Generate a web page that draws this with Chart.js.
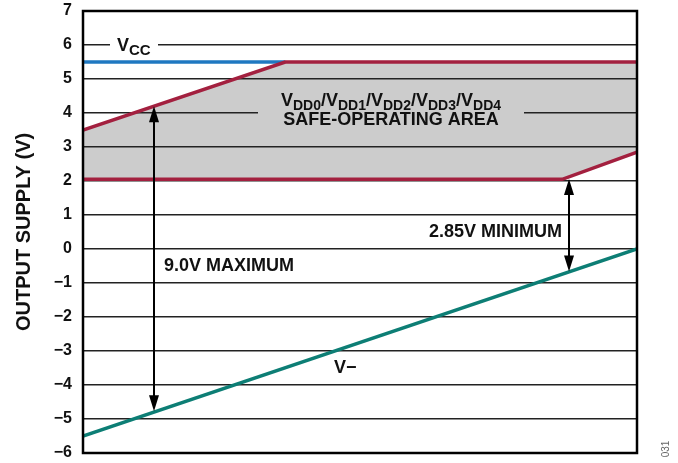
<!DOCTYPE html>
<html>
<head>
<meta charset="utf-8">
<script src="https://cdn.jsdelivr.net/npm/chart.js@4.4.0/dist/chart.umd.min.js"></script>
<style>
  html, body { margin: 0; padding: 0; background: #fff; }
  #wrap { width: 678px; height: 463px; }
</style>
</head>
<body>
<div id="wrap"><canvas id="chart"></canvas></div>
<script>
// posizioni orizzontali (unità arbitrarie, il grafico non ha asse x)
const xPoints = [0, 3.65, 8.65, 10];
const vddUpper = [3.5, 5.5, 5.5, 5.5];
const vddLower = [2.05, 2.05, 2.05, 2.85];
const vccX = [0, 3.65];
const vccValues = [5.5, 5.5];
const vMinusX = [0, 10];
const vMinusValues = [-5.5, 0];
const yTickValues = [-6, -5, -4, -3, -2, -1, 0, 1, 2, 3, 4, 5, 6, 7];

// frecce doppie: x, valore in alto, valore in basso
const arrows = [
  { x: 1.28, top: 4.2, bottom: -4.77 },
  { x: 8.77, top: 2.06, bottom: -0.66 }
];

const FONT = '"Liberation Sans", Arial, sans-serif';

function toPoints(xs, ys) {
  return xs.map((x, i) => ({ x: x, y: ys[i] }));
}

// disegna un testo con pedici, parts = [[testo, pedice?], ...]
function drawSub(ctx, parts, x, y, size, subSize, align) {
  let widths = parts.map(p => {
    ctx.font = 'bold ' + (p[1] ? subSize : size) + 'px ' + FONT;
    return ctx.measureText(p[0]).width;
  });
  let total = widths.reduce((a, b) => a + b, 0);
  let cx = align === 'center' ? x - total / 2 : x;
  ctx.textBaseline = 'alphabetic';
  ctx.textAlign = 'left';
  parts.forEach((p, i) => {
    ctx.font = 'bold ' + (p[1] ? subSize : size) + 'px ' + FONT;
    ctx.fillText(p[0], cx, p[1] ? y + 4 : y);
    cx += widths[i];
  });
}

function arrowHead(ctx, x, y, dir) {
  ctx.beginPath();
  ctx.moveTo(x, y);
  ctx.lineTo(x - 5, y + dir * 16);
  ctx.lineTo(x + 5, y + dir * 16);
  ctx.closePath();
  ctx.fill();
}

const annotations = {
  id: 'annotations',
  beforeDatasetsDraw(chart) {
    const ctx = chart.ctx;
    const ys = chart.scales.y;
    ctx.save();
    // sfondi delle etichette che interrompono la griglia
    ctx.fillStyle = '#fff';
    ctx.fillRect(110, ys.getPixelForValue(6) - 3, 48, 6);
    ctx.fillStyle = '#cccccc';
    ctx.fillRect(258, ys.getPixelForValue(4) - 3, 266, 6);
    ctx.restore();
  },
  afterDatasetsDraw(chart) {
    const ctx = chart.ctx;
    const xs = chart.scales.x, ys = chart.scales.y;
    const a = chart.chartArea;
    ctx.save();

    // frecce
    ctx.strokeStyle = '#000';
    ctx.fillStyle = '#000';
    ctx.lineWidth = 2;
    arrows.forEach(ar => {
      let px = Math.round(xs.getPixelForValue(ar.x));
      let t = ys.getPixelForValue(ar.top);
      let b = ys.getPixelForValue(ar.bottom);
      ctx.beginPath();
      ctx.moveTo(px, t + 6);
      ctx.lineTo(px, b - 6);
      ctx.stroke();
      arrowHead(ctx, px, t, 1);
      arrowHead(ctx, px, b, -1);
    });

    // etichette
    ctx.fillStyle = '#111';
    drawSub(ctx, [['V', false], ['CC', true]], 117, ys.getPixelForValue(6) + 6, 18, 15, 'left');
    let y4 = ys.getPixelForValue(4);
    drawSub(ctx, [['V', false], ['DD0', true], ['/V', false], ['DD1', true], ['/V', false], ['DD2', true],
      ['/V', false], ['DD3', true], ['/V', false], ['DD4', true]], 391, y4 - 7, 18, 14, 'center');
    ctx.font = 'bold 18px ' + FONT;
    ctx.textAlign = 'center';
    ctx.textBaseline = 'alphabetic';
    ctx.fillText('SAFE-OPERATING AREA', 391, y4 + 12);
    ctx.textBaseline = 'middle';
    ctx.textAlign = 'left';
    ctx.fillText('9.0V MAXIMUM', 164, ys.getPixelForValue(-0.5));
    ctx.textAlign = 'right';
    ctx.fillText('2.85V MINIMUM', 562, ys.getPixelForValue(0.5));
    ctx.textAlign = 'left';
    ctx.fillText('V\u2212', 334, ys.getPixelForValue(-3.5));

    // bordo del grafico
    ctx.strokeStyle = '#000';
    ctx.lineWidth = 2.5;
    ctx.strokeRect(a.left, a.top, a.right - a.left, a.bottom - a.top);

    // titolo asse y
    ctx.save();
    ctx.translate(24, 232);
    ctx.rotate(-Math.PI / 2);
    ctx.font = 'bold 20px ' + FONT;
    ctx.textAlign = 'center';
    ctx.textBaseline = 'middle';
    ctx.fillText('OUTPUT SUPPLY (V)', 0, 0);
    ctx.restore();

    // codice figura
    ctx.save();
    ctx.translate(666, 449);
    ctx.rotate(-Math.PI / 2);
    ctx.font = '10px ' + FONT;
    ctx.fillStyle = '#666';
    ctx.textAlign = 'center';
    ctx.textBaseline = 'middle';
    ctx.fillText('031', 0, 0);
    ctx.restore();

    ctx.restore();
  }
};

new Chart('chart', {
  type: 'line',
  data: {
    datasets: [
      {
        label: 'VDD max',
        data: toPoints(xPoints, vddUpper),
        borderColor: '#a3203f',
        borderWidth: 3.5,
        backgroundColor: '#cccccc',
        fill: '+1',
        pointRadius: 0,
        tension: 0
      },
      {
        label: 'VDD min',
        data: toPoints(xPoints, vddLower),
        borderColor: '#a3203f',
        borderWidth: 3.5,
        fill: false,
        pointRadius: 0,
        tension: 0
      },
      {
        label: 'VCC',
        data: toPoints(vccX, vccValues),
        borderColor: '#1f78c1',
        borderWidth: 3.5,
        fill: false,
        pointRadius: 0,
        tension: 0
      },
      {
        label: 'V-',
        data: toPoints(vMinusX, vMinusValues),
        borderColor: '#0d7e75',
        borderWidth: 3.5,
        fill: false,
        pointRadius: 0,
        tension: 0
      }
    ]
  },
  options: {
    responsive: true,
    maintainAspectRatio: false,
    animation: false,
    events: [],
    layout: { padding: { left: 0, right: 41, top: 11, bottom: 10 } },
    plugins: {
      legend: { display: false },
      tooltip: { enabled: false },
      filler: { drawTime: 'beforeDraw' }
    },
    scales: {
      x: {
        type: 'linear',
        min: 0,
        max: 10,
        display: false
      },
      y: {
        min: -6,
        max: 7,
        afterBuildTicks(scale) {
          scale.ticks = yTickValues.map(v => ({ value: v }));
        },
        afterFit(scale) {
          scale.width = 83;
          scale.paddingTop = 0;
          scale.paddingBottom = 0;
        },
        border: { display: false },
        grid: { color: '#222', lineWidth: 1.5, drawTicks: false },
        ticks: {
          padding: 11,
          color: '#111',
          font: { family: FONT, size: 16, weight: 'bold' },
          callback: v => (v < 0 ? '\u2212' + Math.abs(v) : String(v))
        }
      }
    }
  },
  plugins: [annotations]
});
</script>
</body>
</html>
